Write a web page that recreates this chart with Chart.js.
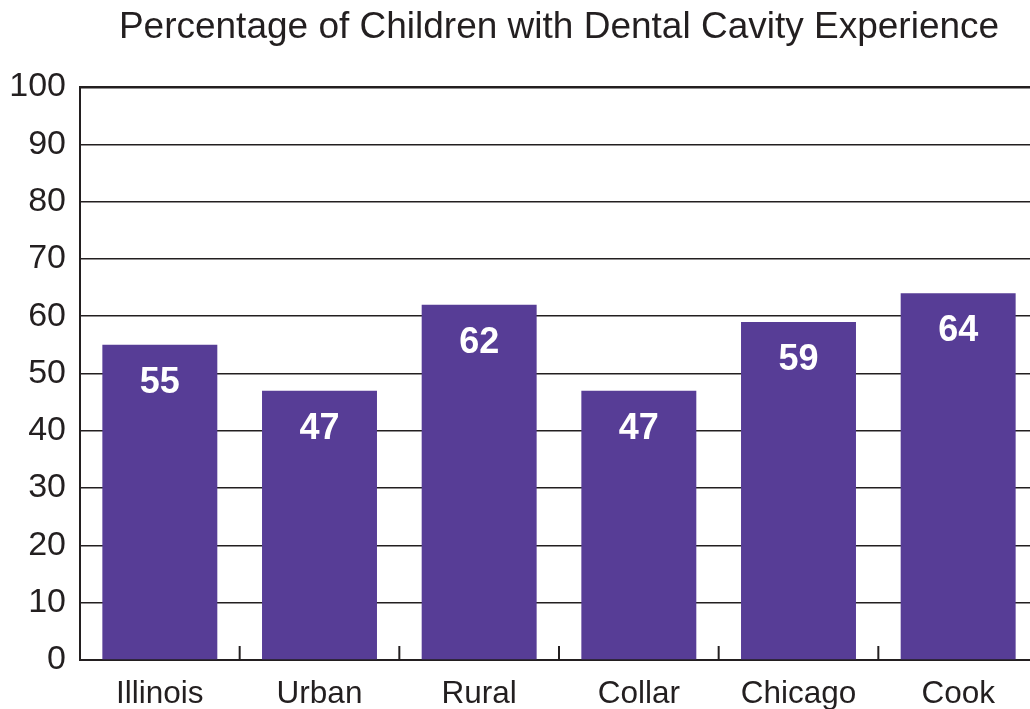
<!DOCTYPE html>
<html>
<head>
<meta charset="utf-8">
<script src="https://cdn.jsdelivr.net/npm/chart.js@4"></script>
<style>
  html, body { margin: 0; padding: 0; background: #fff; overflow: hidden; }
  #wrap { width: 1040px; height: 709px; }
</style>
</head>
<body>
<div id="wrap"><canvas id="chart"></canvas></div>
<script>
const categories = ['Illinois', 'Urban', 'Rural', 'Collar', 'Chicago', 'Cook'];
const values = [55, 47, 62, 47, 59, 64];
const yTicks = [0, 10, 20, 30, 40, 50, 60, 70, 80, 90, 100];

const ink = '#231f20';
const purple = '#573d96';
const fontFamily = 'Arial, "Liberation Sans", Helvetica, sans-serif';

// small tick marks between categories, pointing up from the x axis
const betweenTicks = {
  id: 'betweenTicks',
  afterDatasetsDraw(chart) {
    const x = chart.scales.x;
    const ctx = chart.ctx;
    const bottom = chart.chartArea.bottom;
    ctx.save();
    ctx.strokeStyle = ink;
    ctx.lineWidth = 2;
    for (let i = 1; i < categories.length; i++) {
      const px = (x.getPixelForValue(i - 1) + x.getPixelForValue(i)) / 2;
      ctx.beginPath();
      ctx.moveTo(px, bottom);
      ctx.lineTo(px, bottom - 14);
      ctx.stroke();
    }
    ctx.restore();
  }
};

// value labels inside the top of each bar
const barLabels = {
  id: 'barLabels',
  afterDatasetsDraw(chart) {
    const ctx = chart.ctx;
    const meta = chart.getDatasetMeta(0);
    ctx.save();
    ctx.fillStyle = '#ffffff';
    ctx.font = 'bold 36px ' + fontFamily;
    ctx.textAlign = 'center';
    ctx.textBaseline = 'middle';
    meta.data.forEach((bar, i) => {
      ctx.fillText(String(values[i]), bar.x, bar.y + 38);
    });
    ctx.restore();
  }
};

new Chart(document.getElementById('chart'), {
  type: 'bar',
  data: {
    labels: categories,
    datasets: [{
      label: 'Percentage',
      data: values,
      backgroundColor: purple,
      borderWidth: 0,
      barPercentage: 0.72,
      categoryPercentage: 1.0
    }]
  },
  options: {
    responsive: true,
    maintainAspectRatio: false,
    animation: false,
    layout: { padding: { left: 0, right: 2, top: 0, bottom: 0 } },
    plugins: {
      legend: { display: false },
      tooltip: { enabled: false },
      title: {
        display: true,
        text: 'Percentage of Children with Dental Cavity Experience',
        color: ink,
        fullSize: false,
        font: { family: fontFamily, size: 37, weight: 'normal', lineHeight: 1.2 },
        padding: { top: 6, bottom: 36.6 }
      }
    },
    scales: {
      x: {
        offset: true,
        grid: { display: false },
        border: { display: true, color: ink, width: 2 },
        ticks: {
          color: ink,
          font: { family: fontFamily, size: 31.5 },
          padding: 7
        },
        afterFit(scale) { scale.height = 49; }
      },
      y: {
        min: 0,
        max: 100,
        afterBuildTicks(scale) { scale.ticks = yTicks.map(v => ({ value: v })); },
        grid: {
          color: ink,
          lineWidth: c => (c.tick && c.tick.value === 100 ? 2.5 : 1.5),
          drawTicks: false
        },
        border: { display: true, color: ink, width: 2 },
        ticks: {
          color: ink,
          font: { family: fontFamily, size: 34 },
          padding: 14
        },
        afterFit(scale) { scale.width = 80; }
      }
    }
  },
  plugins: [betweenTicks, barLabels]
});
</script>
</body>
</html>
